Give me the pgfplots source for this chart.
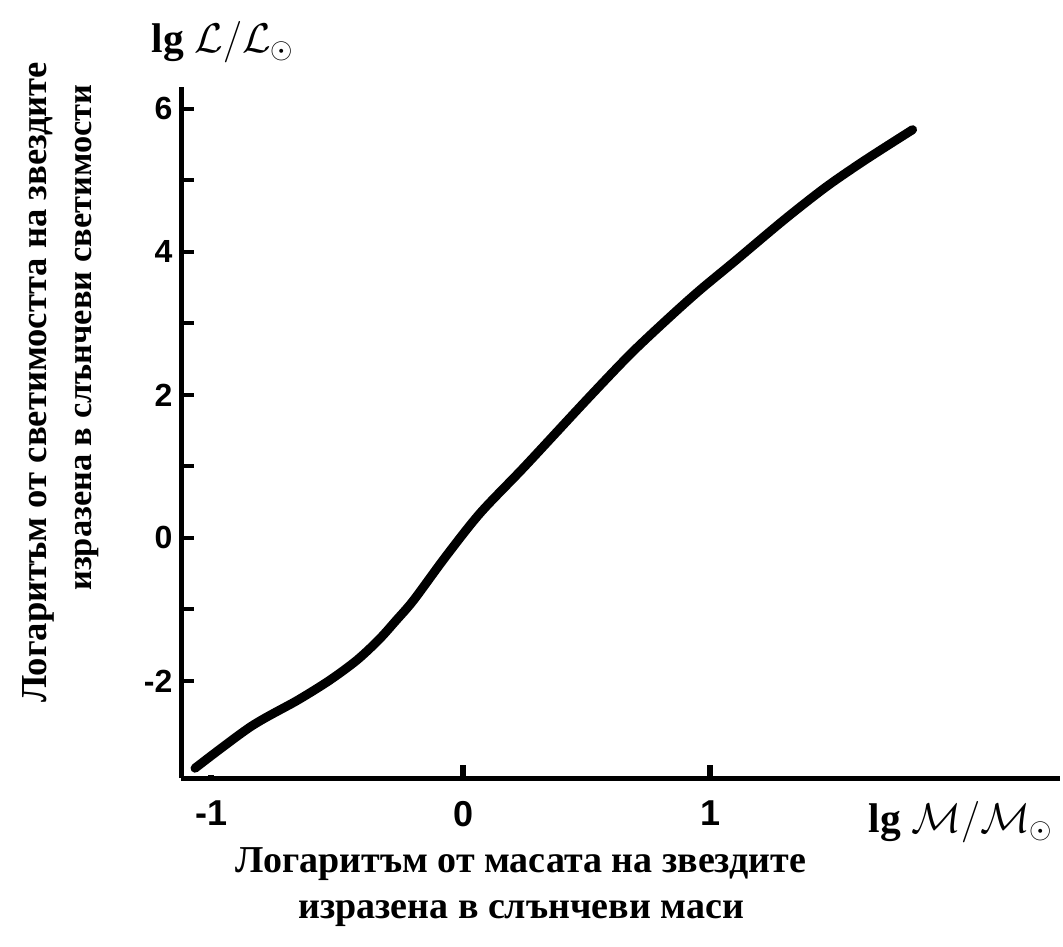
\documentclass[border=0pt]{standalone}
\usepackage{fontspec}
\setmainfont{Liberation Serif}
\newfontfamily\arial{Liberation Sans}
\usepackage{pgfplots}
\usepackage{pgfplotstable}
\pgfplotsset{compat=1.18}

% mass-luminosity relation
\pgfplotstableread{
lgM    lgL
-1.085 -3.22
-0.86  -2.64
-0.67  -2.27
-0.54  -1.99
-0.43  -1.71
-0.34  -1.42
-0.27  -1.15
-0.20  -0.87
-0.07  -0.26
 0.07   0.35
 0.25   1.00
 0.50   1.93
 0.68   2.58
 0.84   3.10
 0.96   3.47
 1.10   3.87
 1.30   4.45
 1.47   4.91
 1.63   5.29
 1.82   5.71
}\mlr

\begin{document}
\begin{tikzpicture}
\begin{axis}[
    x=123.5pt, y=35.75pt,
    xmin=-1.14, xmax=2.417,
    ymin=-3.357, ymax=6.308,
    axis x line=bottom, axis y line=left,
    axis line style={line width=2.5pt,-},
    clip=false,
    tick align=inside,
    xtick={0,1}, xticklabels={0,1},
    extra x ticks={-1.02}, extra x tick labels={-1},
    extra x tick style={major tick length=1.5pt},
    ytick={-2,-1,...,6}, yticklabels={-2,,0,,2,,4,,6},
    major tick length=6.5pt,
    xtick style={line width=3pt, black},
    ytick style={line width=2pt, black},
    xticklabel style={font=\arial\bfseries\fontsize{18}{18}\selectfont, yshift=-8pt},
    yticklabel style={font=\arial\bfseries\fontsize{16}{16}\selectfont, xshift=-1pt},
]
\addplot[black, line width=4.5pt, smooth, line cap=round] table[x=lgM, y=lgL] {\mlr};

\node at (axis cs:-0.972,6.94) {\fontsize{20.74}{26}\selectfont\textbf{lg} $\mathcal{L}/\mathcal{L}_\odot$};
\node at (axis cs:2.016,-3.97) {\fontsize{20.74}{26}\selectfont\textbf{lg} $\mathcal{M}/\mathcal{M}_\odot$};
\node at (axis cs:0.235,-4.56) {\fontsize{19}{22}\selectfont\bfseries Логаритъм от масата на звездите};
\node at (axis cs:0.235,-5.25) {\fontsize{19}{22}\selectfont\bfseries изразена в слънчеви маси};
\node[rotate=90] at (axis cs:-1.717,2.18) {\fontsize{18.3}{22}\selectfont\bfseries Логаритъм от светимостта на звездите};
\node[rotate=90] at (axis cs:-1.522,2.80) {\fontsize{17.2}{22}\selectfont\bfseries изразена в слънчеви светимости};

\coordinate (bl) at (axis cs:-1.8745,-5.720);
\coordinate (tr) at (axis cs:2.429,7.524);
\end{axis}
\pgfresetboundingbox
\path[use as bounding box] (bl) rectangle (tr);
\end{tikzpicture}
\end{document}
